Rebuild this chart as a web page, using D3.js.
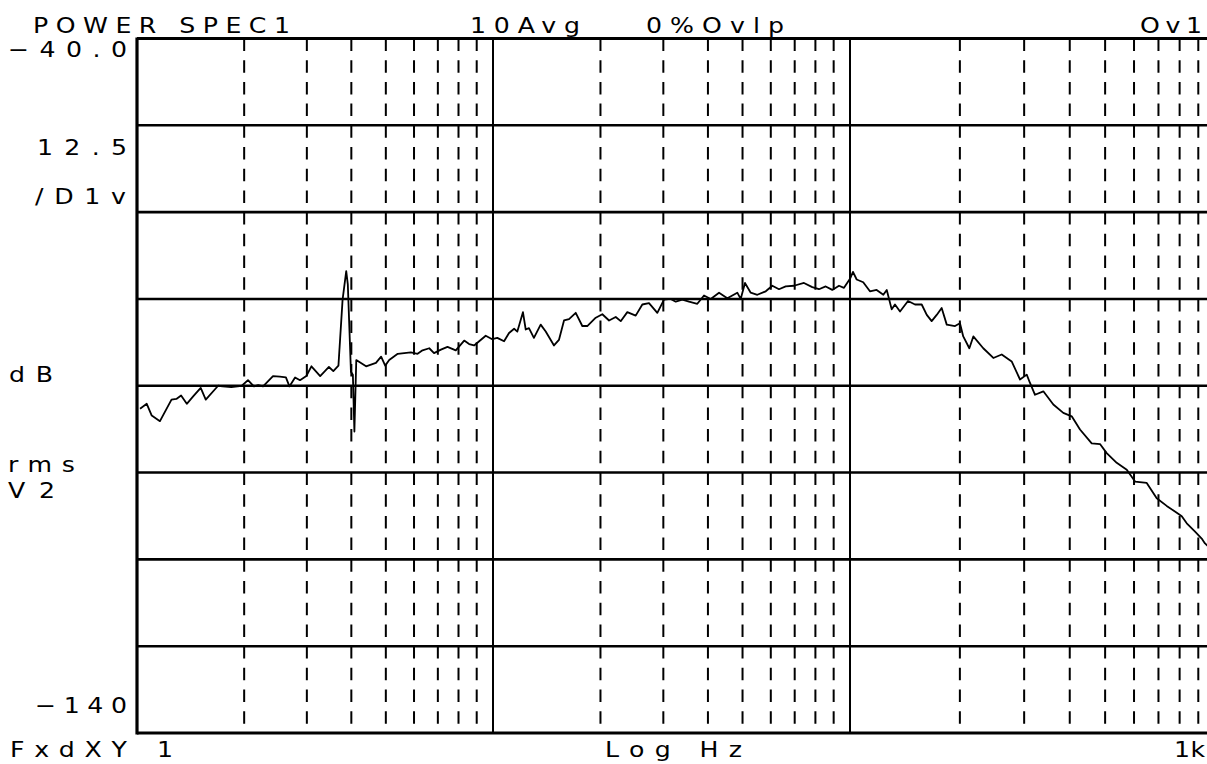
<!DOCTYPE html>
<html>
<head>
<meta charset="utf-8">
<script src="https://cdn.jsdelivr.net/npm/d3@7"></script>
<style>
  html, body { margin: 0; padding: 0; background: #fff; }
  svg { display: block; }
  text { font-family: "DejaVu Sans", sans-serif; fill: #000; }
</style>
</head>
<body>
<svg id="chart" width="1207" height="764"></svg>
<script>
// ---------------- data ----------------
const freqHz = [
  1.02, 1.065, 1.10, 1.16, 1.25, 1.29, 1.33, 1.38, 1.44, 1.51, 1.56, 1.69, 1.74, 1.84, 1.97, 2.05, 2.13, 2.19, 2.26, 2.41,
  2.52, 2.62, 2.68, 2.78, 2.87, 2.99, 3.09, 3.27, 3.46, 3.56, 3.68, 3.78, 3.87, 3.91, 3.99, 4.04, 4.08, 4.13, 4.40, 4.69,
  4.85, 4.98, 5.11, 5.40, 5.63, 5.88, 6.14, 6.34, 6.62, 6.83, 7.14, 7.45, 7.86, 8.30, 8.57, 8.85, 9.54, 9.95, 10.28, 10.74,
  11.09, 11.46, 11.70, 12.13, 12.35, 12.61, 13.02, 13.60, 14.05, 14.82, 15.30, 15.81, 16.33, 17.05, 17.79, 18.37, 19.40, 20.24, 21.14, 22.07,
  22.79, 23.78, 25.10, 26.20, 27.35, 28.86, 30.13, 31.46, 32.50, 33.91, 35.40, 37.35, 39.00, 40.73, 42.97, 45.33, 48.34, 49.41, 50.80, 52.71,
  55.01, 58.07, 60.59, 63.26, 66.05, 69.68, 74.31, 78.40, 81.87, 85.49, 89.21, 93.15, 96.20,
  100, 101.9, 104.3, 108.7, 113.4, 118.3, 123.4, 126.1, 130.1, 132.8, 137.1, 144.2, 150.7, 157.2, 162.3, 167.4, 172.8, 178.3, 184.1, 194.0,
  200.1, 204.3, 212.3, 217.7, 231.8, 247.0, 260.4, 277.3, 292.3, 304.9, 311.3, 321.3, 338.6, 360.6, 384.0, 405.0, 426.7, 459.4, 484.1, 505.0,
  537.9, 573.1, 603.9, 650.1, 692.3, 737.4, 785.7, 810.9, 836.8, 881.8, 919.5, 938.8, 957
];
const powerDb = [
  -93.3, -92.6, -94.3, -95.1, -92.0, -91.9, -91.4, -92.6, -91.5, -90.3, -92.0, -90.0, -90.1, -90.2, -90.0, -89.2, -90.1, -89.9, -90.1, -88.6,
  -88.7, -88.8, -90.1, -88.8, -89.2, -88.6, -87.2, -88.6, -87.3, -87.9, -87.1, -77.6, -73.5, -75.4, -88.0, -88.4, -96.6, -86.3, -87.2, -86.7,
  -85.8, -87.1, -86.3, -85.4, -85.3, -85.2, -85.4, -84.9, -84.6, -85.3, -84.8, -84.4, -84.9, -83.5, -84.0, -84.2, -82.8, -83.3, -83.1, -83.6,
  -82.4, -81.8, -82.2, -79.4, -81.9, -81.7, -83.1, -81.2, -82.2, -84.2, -83.4, -80.6, -80.4, -79.5, -81.4, -81.4, -80.2, -79.7, -80.6, -80.1,
  -80.7, -79.4, -79.9, -78.3, -78.1, -79.5, -77.6, -77.5, -77.9, -77.6, -77.9, -78.2, -77.0, -77.5, -76.6, -77.4, -76.6, -77.5, -75.2, -76.6,
  -76.9, -76.4, -75.6, -76.1, -75.7, -75.6, -75.2, -75.8, -76.1, -75.7, -76.2, -75.6, -75.9,
  -74.6, -73.6, -74.7, -75.1, -76.4, -76.2, -76.9, -76.2, -79.0, -78.3, -79.3, -77.8, -78.3, -78.3, -79.8, -80.7, -79.8, -78.8, -81.2, -81.4,
  -81.0, -82.9, -84.6, -82.9, -84.6, -86.0, -85.5, -86.5, -89.1, -88.4, -89.6, -91.3, -90.8, -92.7, -93.9, -94.4, -96.3, -98.3, -98.4, -99.7,
  -101.1, -102.1, -103.8, -104.0, -106.2, -107.3, -108.3, -108.8, -109.8, -111.0, -112.0, -112.7, -113.1
];
const decades = [1, 10, 100, 1000];
const minorMultipliers = [2, 3, 4, 5, 6, 7, 8, 9];
const yTop = -40, yBottom = -140, yStep = 12.5;
const headerLabels = ["POWER SPEC1", "10Avg", "0%Ovlp", "Ov1"];
const yAxisLabels = ["\u221240.0", "12.5", "/D1v", "dB", "rms", "V2", "\u2212140"];
const xAxisLabels = ["FxdXY", "1", "Log Hz", "1k"];

// ---------------- layout ----------------
const svg = d3.select("#chart");
const plotLeft = 137, plotTop = 38.5, plotBottom = 733, plotRight = 1207;
// plotter decades are not perfectly equal in width
const x = d3.scaleLog().domain(decades).range([plotLeft, 493, 850, 1215]);
const y = d3.scaleLinear().domain([yTop, yBottom]).range([plotTop, plotBottom]);

svg.append("rect").attr("width", 1207).attr("height", 764).attr("fill", "#fff");

// horizontal grid (solid)
const hVals = d3.range(yTop, yBottom - 0.01, -yStep);
svg.append("g").selectAll("line").data(hVals).join("line")
  .attr("x1", plotLeft).attr("x2", plotRight)
  .attr("y1", d => y(d)).attr("y2", d => y(d))
  .attr("stroke", "#000")
  .attr("stroke-width", d => (d === yTop || d === yBottom) ? 3 : 2.6);

// minor vertical dashed lines
const minorVals = [];
decades.slice(0, 3).forEach(d => minorMultipliers.forEach(m => minorVals.push(d * m)));
svg.append("g").selectAll("line").data(minorVals).join("line")
  .attr("x1", d => x(d)).attr("x2", d => x(d))
  .attr("y1", plotTop).attr("y2", plotBottom)
  .attr("stroke", "#000").attr("stroke-width", 2)
  .attr("stroke-dasharray", "12.5,9.2");

// decade vertical solid lines
svg.append("g").selectAll("line").data(decades.slice(1, 3)).join("line")
  .attr("x1", d => x(d)).attr("x2", d => x(d))
  .attr("y1", plotTop).attr("y2", plotBottom)
  .attr("stroke", "#000").attr("stroke-width", 2);

// left axis
svg.append("line").attr("x1", plotLeft).attr("x2", plotLeft).attr("y1", plotTop - 1).attr("y2", plotBottom + 1.5)
  .attr("stroke", "#000").attr("stroke-width", 3.2);

// trace
const pts = freqHz.map((f, i) => [f, powerDb[i]]);
const line = d3.line().x(d => x(d[0])).y(d => y(d[1]));
svg.append("path").datum(pts)
  .attr("d", line)
  .attr("fill", "none").attr("stroke", "#000")
  .attr("stroke-width", 1.8).attr("stroke-linejoin", "round");

// ---------------- text ----------------
const stretch = 1.2;
function label(txt, x0, width, baseline) {
  const g = svg.append("g").attr("transform", `translate(${x0},${baseline}) scale(${stretch},1)`);
  const t = g.append("text").attr("x", 0).attr("y", 0)
    .attr("font-size", 21).text(txt);
  if (width) t.attr("textLength", width / stretch).attr("lengthAdjust", "spacing");
  return t;
}
// header
label(headerLabels[0], 33, 257, 32.5);
label(headerLabels[1], 470, 110, 32.5);
label(headerLabels[2], 646, 138, 32.5);
label(headerLabels[3], 1140, 62, 32.5);
// y side
label(yAxisLabels[0], 8, 119, y(yTop) + 18.5);
label(yAxisLabels[1], 37, 90, 155);
label(yAxisLabels[2], 35, 91, 204);
label(yAxisLabels[3], 9, 44, 382);
label(yAxisLabels[4], 8, 67, 472);
label(yAxisLabels[5], 8, 47, 498);
label(yAxisLabels[6], 35, 92, y(yBottom) - 20);
// x side
label(xAxisLabels[0], 10, 117, 757);
label(xAxisLabels[1], 157, null, 757);
label(xAxisLabels[2], 605, 137, 757);
label(xAxisLabels[3], 1174, 31, 757);
</script>
</body>
</html>
